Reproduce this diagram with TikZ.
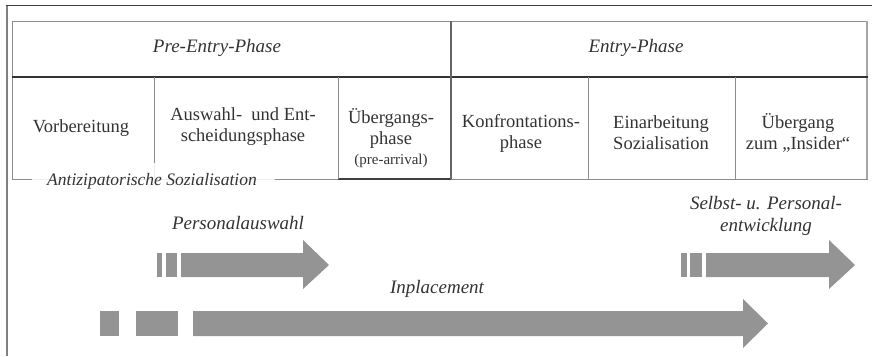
\documentclass[tikz,border=0pt]{standalone}
\usepackage{fontspec}
\setmainfont{Liberation Serif}
\begin{document}
\begin{tikzpicture}[x=1pt,y=-1pt,
  txt/.style={text=black!80, font=\fontsize{18.5}{21}\selectfont, align=center, inner sep=0pt},
  itxt/.style={text=black!80, font=\fontsize{19}{22}\selectfont\itshape, align=center, inner sep=0pt},
  small/.style={text=black!80, font=\fontsize{15}{18}\selectfont, inner sep=0pt},
  thin/.style={draw=black!45, line width=1pt},
  bar/.style={fill=black!42, draw=none}
]
\useasboundingbox (0,0) rectangle (872,356);

% outer frame (top and left edges)
\draw[black!50, line width=1.6pt] (7,356) -- (7,5.5);
\draw[black!75, line width=1.4pt] (6.2,5.5) -- (872,5.5);

% table grid
\draw[thin] (12,21) -- (868,21);
\draw[thin] (12,21) -- (12,179) -- (868,179);
\draw[black!75, line width=1.2pt] (338,179) -- (451,179);
\draw[black!35, line width=2pt] (867,21) -- (867,179);
\draw[black!80, line width=2pt] (12,77) -- (868,77);
\draw[black!60, line width=1.6pt] (451,21) -- (451,179);
\draw[thin] (154,77) -- (154,179);
\draw[thin] (338,77) -- (338,179);
\draw[thin] (588,77) -- (588,179);
\draw[thin] (735,77) -- (735,179);

% header row
\node[itxt] (pre) at (217,48) {Pre-Entry-Phase};
\node[itxt] (entry) at (636,48) {Entry-Phase};

% phase cells
\node[txt] (vor) at (81,128) {Vorbereitung};
\node[txt] (ausw) at (243,127) {Auswahl-\ \ und Ent-\\scheidungsphase};
\node[txt] (ueb) at (391,128) {Übergangs-\\phase};
\node[small] (prearr) at (391,161) {(pre-arrival)};
\node[txt] (konf) at (521,133) {Konfrontations-\\phase};
\node[txt] (einarb) at (661,133) {Einarbeitung\\Sozialisation};
\node[txt] (insider) at (798,133) {Übergang\\zum „Insider“};

% label across the bottom edge of the table
\fill[white, fill opacity=0.85] (32,163) rectangle (275,193);
\node[itxt, font=\fontsize{17.5}{20}\selectfont\itshape] (antiz) at (152,181) {Antizipatorische Sozialisation};

% process arrows
\node[itxt] (pa) at (238,223) {Personalauswahl};
\fill[bar] (157,253) rectangle (162,277);
\fill[bar] (166,253) rectangle (177,277);
\fill[bar] (181,253) -- (303,253) -- (303,240) -- (329,265) -- (303,289) -- (303,277) -- (181,277) -- cycle;

\node[itxt] (spe) at (766,216) {Selbst- u. Personal-\\entwicklung};
\fill[bar] (681,253) rectangle (687,277);
\fill[bar] (690,253) rectangle (702,277);
\fill[bar] (706,253) -- (829,253) -- (829,240) -- (855,265) -- (829,289) -- (829,277) -- (706,277) -- cycle;

\node[itxt] (inpl) at (437,289) {Inplacement};
\fill[bar] (100,311) rectangle (119,336);
\fill[bar] (136,311) rectangle (178,336);
\fill[bar] (193,311) -- (743,311) -- (743,299) -- (768,323.5) -- (743,348) -- (743,336) -- (193,336) -- cycle;
\end{tikzpicture}
\end{document}
